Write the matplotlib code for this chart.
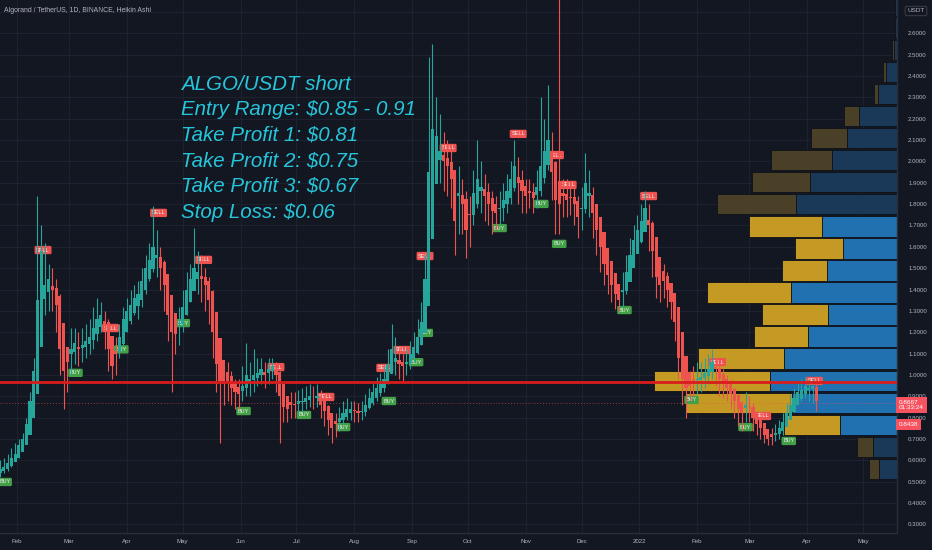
import datetime as dt
import matplotlib
matplotlib.use("Agg")
import matplotlib.pyplot as plt
import matplotlib.dates as mdates
from matplotlib import font_manager
from matplotlib.patches import Rectangle
from matplotlib.transforms import blended_transform_factory
from matplotlib.ticker import FuncFormatter, FixedLocator

# ---------------- data ----------------
start_date = dt.date(2021, 1, 23)
bar_days = 2
ha_first_open = 0.54

ha_close = [
    0.56, 0.57, 0.59, 0.61, 0.63, 0.67, 0.70, 0.77, 0.88, 1.02,
    1.35, 1.58, 1.42, 1.45, 1.40, 1.33, 1.12, 1.02, 1.06, 1.12,
    1.15, 1.12, 1.14, 1.16, 1.18, 1.22, 1.26, 1.28, 1.24, 1.12,
    1.04, 1.10, 1.18, 1.26, 1.30, 1.33, 1.36, 1.38, 1.44, 1.50,
    1.54, 1.60, 1.56, 1.50, 1.42, 1.28, 1.20, 1.19, 1.24, 1.32,
    1.40, 1.45, 1.50, 1.48, 1.45, 1.42, 1.35, 1.20, 1.05, 0.97,
    0.96, 0.97, 0.94, 0.92, 0.91, 0.95, 1.00, 0.98, 1.00, 1.01,
    1.03, 1.00, 1.03, 1.04, 1.00, 0.90, 0.85, 0.84, 0.86, 0.86,
    0.88, 0.88, 0.89, 0.90, 0.89, 0.90, 0.86, 0.83, 0.79, 0.75,
    0.77, 0.80, 0.82, 0.84, 0.84, 0.83, 0.82, 0.83, 0.86, 0.89,
    0.92, 0.94, 0.96, 0.98, 1.05, 1.12, 1.08, 1.05, 1.04, 1.06,
    1.10, 1.13, 1.18, 1.25, 1.45, 1.95, 2.15, 2.12, 2.05, 2.00,
    1.98, 1.92, 1.72, 1.85, 1.80, 1.68, 1.75, 1.85, 1.92, 1.88,
    1.84, 1.80, 1.77, 1.76, 1.78, 1.82, 1.86, 1.92, 1.98, 1.90,
    1.86, 1.84, 1.85, 1.83, 1.88, 1.98, 2.05, 2.10, 1.95, 1.82,
    1.80, 1.84, 1.82, 1.83, 1.80, 1.74, 1.78, 1.90, 1.85, 1.76,
    1.68, 1.60, 1.52, 1.47, 1.42, 1.38, 1.35, 1.40, 1.48, 1.56,
    1.63, 1.68, 1.72, 1.78, 1.70, 1.58, 1.46, 1.42, 1.44, 1.40,
    1.34, 1.25, 1.08, 0.98, 0.94, 0.95, 0.97, 0.98, 0.99, 1.01,
    1.03, 1.06, 1.03, 0.98, 0.96, 0.94, 0.91, 0.88, 0.84, 0.82,
    0.86, 0.85, 0.80, 0.77, 0.75, 0.72, 0.70, 0.71, 0.73, 0.75,
    0.78, 0.82, 0.86, 0.89, 0.92, 0.93, 0.95, 0.94, 0.95, 0.88,
]
ha_high = [
    0.60, 0.61, 0.63, 0.66, 0.68, 0.70, 0.73, 0.80, 0.92, 1.08,
    1.84, 1.70, 1.62, 1.52, 1.50, 1.45, 1.38, 1.15, 1.12, 1.22,
    1.22, 1.20, 1.22, 1.24, 1.26, 1.32, 1.36, 1.34, 1.30, 1.26,
    1.14, 1.18, 1.24, 1.32, 1.36, 1.40, 1.42, 1.44, 1.50, 1.56,
    1.62, 1.79, 1.68, 1.60, 1.54, 1.46, 1.32, 1.26, 1.32, 1.40,
    1.48, 1.52, 1.69, 1.58, 1.56, 1.50, 1.46, 1.40, 1.26, 1.10,
    1.04, 1.06, 1.02, 0.98, 0.98, 1.04, 1.15, 1.06, 1.12, 1.08,
    1.08, 1.06, 1.08, 1.08, 1.06, 1.02, 0.94, 0.90, 0.92, 0.92,
    0.93, 0.94, 0.95, 0.96, 0.95, 0.96, 0.93, 0.90, 0.86, 0.82,
    0.82, 0.85, 0.88, 0.89, 0.88, 0.88, 0.87, 0.88, 0.91, 0.94,
    0.97, 0.99, 1.01, 1.04, 1.12, 1.24, 1.18, 1.12, 1.10, 1.12,
    1.16, 1.20, 1.26, 1.34, 1.56, 2.49, 2.55, 2.30, 2.22, 2.14,
    2.10, 2.08, 1.96, 1.98, 1.92, 1.86, 1.84, 1.96, 2.10, 2.00,
    1.94, 1.90, 1.86, 1.84, 1.86, 1.90, 1.94, 2.00, 2.10, 2.02,
    1.96, 1.92, 1.92, 1.90, 1.96, 2.30, 2.20, 2.36, 2.14, 2.00,
    2.80, 1.92, 1.92, 1.90, 1.88, 1.84, 1.88, 2.04, 1.96, 1.88,
    1.80, 1.72, 1.64, 1.56, 1.50, 1.46, 1.42, 1.48, 1.56, 1.64,
    1.70, 1.75, 1.80, 1.86, 1.80, 1.72, 1.60, 1.52, 1.52, 1.48,
    1.42, 1.36, 1.28, 1.12, 1.02, 1.02, 1.04, 1.06, 1.06, 1.08,
    1.10, 1.12, 1.08, 1.06, 1.03, 1.00, 0.98, 0.94, 0.90, 0.88,
    0.92, 0.90, 0.87, 0.83, 0.80, 0.77, 0.74, 0.75, 0.77, 0.79,
    0.82, 0.87, 0.91, 0.94, 0.97, 0.98, 0.99, 0.98, 0.98, 0.96,
]
ha_low = [
    0.52, 0.54, 0.55, 0.57, 0.60, 0.61, 0.65, 0.69, 0.76, 0.86,
    1.00, 1.30, 1.28, 1.30, 1.30, 1.20, 1.00, 0.84, 0.92, 1.00,
    1.05, 1.04, 1.06, 1.08, 1.10, 1.12, 1.16, 1.20, 1.12, 1.02,
    0.98, 1.00, 1.08, 1.14, 1.20, 1.24, 1.28, 1.26, 1.32, 1.38,
    1.44, 1.48, 1.46, 1.40, 1.30, 1.16, 0.92, 1.10, 1.14, 1.20,
    1.28, 1.34, 1.40, 1.38, 1.34, 1.30, 1.24, 1.08, 0.92, 0.68,
    0.86, 0.88, 0.86, 0.84, 0.84, 0.88, 0.90, 0.90, 0.92, 0.95,
    0.96, 0.94, 0.96, 0.98, 0.92, 0.68, 0.78, 0.78, 0.80, 0.80,
    0.82, 0.83, 0.84, 0.85, 0.84, 0.85, 0.80, 0.76, 0.72, 0.68,
    0.71, 0.74, 0.77, 0.79, 0.79, 0.78, 0.78, 0.79, 0.81, 0.84,
    0.86, 0.88, 0.90, 0.92, 0.96, 1.02, 1.00, 0.98, 0.97, 1.00,
    1.03, 1.06, 1.10, 1.14, 1.20, 1.40, 1.90, 1.95, 1.90, 1.86,
    1.84, 1.78, 1.56, 1.66, 1.66, 1.55, 1.60, 1.70, 1.78, 1.76,
    1.72, 1.70, 1.66, 1.68, 1.70, 1.72, 1.76, 1.80, 1.86, 1.80,
    1.76, 1.76, 1.78, 1.76, 1.78, 1.84, 1.90, 1.96, 1.82, 1.66,
    1.66, 1.74, 1.74, 1.75, 1.70, 1.64, 1.68, 1.76, 1.74, 1.64,
    1.56, 1.48, 1.42, 1.38, 1.34, 1.31, 1.30, 1.32, 1.38, 1.44,
    1.52, 1.58, 1.62, 1.68, 1.58, 1.46, 1.36, 1.34, 1.36, 1.32,
    1.26, 1.16, 0.98, 0.86, 0.80, 0.88, 0.90, 0.91, 0.92, 0.94,
    0.96, 0.98, 0.95, 0.90, 0.89, 0.88, 0.84, 0.80, 0.76, 0.74,
    0.78, 0.78, 0.74, 0.72, 0.70, 0.68, 0.67, 0.67, 0.69, 0.70,
    0.72, 0.76, 0.80, 0.83, 0.86, 0.88, 0.89, 0.88, 0.87, 0.83,
]

signal_bar = [1.2, 11.5, 20.2, 29.6, 32.5, 42.5, 49.0, 54.6, 65.3, 74.0,
              81.5, 87.4, 92.0, 103.2, 104.3, 107.8, 111.6, 114.2, 114.0, 120.2,
              134.0, 139.0, 145.2, 149.0, 150.0, 152.4, 167.5, 174.0, 185.5, 192.5,
              200.0, 204.6, 211.6, 218.5]
signal_price = [0.499, 1.585, 1.010, 1.220, 1.120, 1.759, 1.243, 1.539, 0.831, 1.037,
                0.813, 0.897, 0.756, 1.033, 0.878, 1.117, 1.060, 1.197, 1.557, 2.063,
                1.688, 2.129, 1.801, 2.030, 1.614, 1.890, 1.304, 1.838, 0.883, 1.060,
                0.756, 0.808, 0.691, 0.972]
signal_kind = ["BUY", "SELL", "BUY", "SELL", "BUY", "SELL", "BUY", "SELL", "BUY", "SELL",
               "BUY", "SELL", "BUY", "SELL", "BUY", "SELL", "BUY", "BUY", "SELL", "SELL",
               "BUY", "SELL", "BUY", "SELL", "BUY", "SELL", "BUY", "SELL", "BUY", "SELL",
               "BUY", "SELL", "BUY", "SELL"]

vp_bottom = 0.509
vp_row = 0.1032
vp_up_volume = [18, 24, 57, 105, 127, 113, 89, 69, 106, 70, 54,
                75, 101, 87, 65, 50, 38, 19, 11, 3, 2, 2]
vp_down_volume = [10, 16, 56, 106, 116, 86, 54, 66, 84, 45, 48,
                  73, 79, 58, 61, 36, 15, 4, 3, 2, 0, 0]
vp_value_area_rows = (2, 11)

level_line = 0.967
last_close = 0.8667
last_close_alt = 0.8438
bar_countdown = "01:33:24"

chart_title = "Algorand / TetherUS, 1D, BINANCE, Heikin Ashi"
note_lines = ["ALGO/USDT short",
              "Entry Range: $0.85 - 0.91",
              "Take Profit 1: $0.81",
              "Take Profit 2: $0.75",
              "Take Profit 3: $0.67",
              "Stop Loss: $0.06"]
price_ticks = [0.3, 0.4, 0.5, 0.6, 0.7, 0.8, 0.9, 1.0, 1.1, 1.2, 1.3, 1.4,
               1.5, 1.6, 1.7, 1.8, 1.9, 2.0, 2.1, 2.2, 2.3, 2.4, 2.5, 2.6, 2.7]
price_label_max = 2.6

# ---------------- style ----------------
BG = "#131722"
GRID = "#1e2230"
TXT = "#b2b5be"
UP = "#26a69a"
DOWN = "#ef5350"


def pick_font(names):
    for n in names:
        try:
            font_manager.findfont(font_manager.FontProperties(family=n),
                                  fallback_to_default=False)
            return n
        except Exception:
            continue
    return "DejaVu Sans"


narrow = pick_font(["Liberation Sans Narrow", "Liberation Sans", "DejaVu Sans"])
wf = 1.0 if narrow == "Liberation Sans Narrow" else 0.82

W, H = 932, 550
fig = plt.figure(figsize=(W / 100, H / 100), dpi=100, facecolor=BG)
plot_w, plot_bottom = 897, 17
ax = fig.add_axes([0, plot_bottom / H, plot_w / W, 1 - plot_bottom / H])
ax.set_facecolor(BG)

x0 = mdates.date2num(start_date)
n = len(ha_close)
xs = [x0 + bar_days * i for i in range(n)]
opens = [ha_first_open]
for i in range(1, n):
    opens.append((opens[i - 1] + ha_close[i - 1]) / 2)
cols = [UP if c >= o else DOWN for o, c in zip(opens, ha_close)]
bottoms = [min(o, c) for o, c in zip(opens, ha_close)]
heights = [max(abs(c - o), 0.004) for o, c in zip(opens, ha_close)]

px_per_day = 1.8634
left = x0 - 0.1
ax.set_xlim(left, left + plot_w / px_per_day)
ax.set_ylim(0.26, 2.756)

# volume profile (behind candles)
trans = blended_transform_factory(ax.transAxes, ax.transData)
vscale = 1.0 / plot_w
lo, hi = vp_value_area_rows
for k, (u, d) in enumerate(zip(vp_up_volume, vp_down_volume)):
    y0 = vp_bottom + k * vp_row
    bright = lo <= k <= hi
    blue = "#2170b0" if bright else "#1a3857"
    gold = "#c49a24" if bright else "#4a3f27"
    wu, wd = u * vscale, d * vscale
    g = vp_row * 0.04
    if u > 0:
        ax.add_patch(Rectangle((1 - wu, y0 + g), wu, vp_row - 2 * g, transform=trans,
                               fc=blue, ec="#0e1118", lw=0.6, zorder=1))
    if d > 0:
        ax.add_patch(Rectangle((1 - wu - wd, y0 + g), wd, vp_row - 2 * g, transform=trans,
                               fc=gold, ec="#0e1118", lw=0.6, zorder=1))

# candles
ax.vlines(xs, ha_low, ha_high, colors=cols, lw=0.8, zorder=3)
ax.bar(xs, heights, bottom=bottoms, width=bar_days * 0.85, color=cols,
       linewidth=0, zorder=3.1)

# level lines
ax.axhline(level_line, color="#d91c1c", lw=2.0, zorder=5)
ax.axhline(last_close, color=DOWN, lw=0.7, ls=(0, (1, 2)), alpha=0.6, zorder=2)

# buy / sell labels
for b, p, kind in zip(signal_bar, signal_price, signal_kind):
    fc = DOWN if kind == "SELL" else "#43a047"
    ax.text(x0 + bar_days * b, p, kind, ha="center", va="center",
            fontsize=4.0, color="#f0f0f0", family=narrow, zorder=2.8,
            bbox=dict(boxstyle="round,pad=0.3,rounding_size=0.25", fc=fc, ec="none"))

# grid / axes
ax.yaxis.set_major_locator(FixedLocator(price_ticks))
ax.yaxis.set_major_formatter(
    FuncFormatter(lambda v, p: f"{v:.4f}" if v <= price_label_max + 1e-9 else ""))
ax.xaxis.set_major_locator(mdates.MonthLocator())


def month_fmt(v, pos):
    d = mdates.num2date(v)
    return str(d.year) if d.month == 1 else d.strftime("%b")


ax.xaxis.set_major_formatter(FuncFormatter(month_fmt))
ax.grid(True, color=GRID, lw=0.8, zorder=0)
ax.set_axisbelow(True)
ax.yaxis.tick_right()
ax.tick_params(axis="y", length=0, pad=8, labelsize=5.0 * wf + 0.3, labelcolor=TXT)
ax.tick_params(axis="x", length=0, pad=4, labelsize=5.0 * wf + 0.3, labelcolor=TXT)
for lab in ax.get_xticklabels() + ax.get_yticklabels():
    lab.set_family(narrow)
for s in ("top", "left"):
    ax.spines[s].set_visible(False)
for s in ("right", "bottom"):
    ax.spines[s].set_color("#2a2e39")
    ax.spines[s].set_linewidth(1.0)

# title
fig.text(4 / W, 1 - 11 / H, chart_title, fontsize=5.6 * wf + 0.4, color=TXT,
         family=narrow, va="center", ha="left")

# note text
for j, line in enumerate(note_lines):
    fig.text(181 / W, 1 - (84 + 25.6 * j) / H, line, fontsize=18 * wf, color="#26c6da",
             family=narrow, style="italic", va="center", ha="left")

# USDT box
fig.text(916 / W, 1 - 11 / H, "USDT", fontsize=4.6, color=TXT, family=narrow,
         ha="center", va="center",
         bbox=dict(boxstyle="round,pad=0.35,rounding_size=0.3", fc=BG, ec="#434651", lw=0.6),
         zorder=10)

# price boxes
fig.text(899 / W, 1 - 405 / H, f"{last_close:.4f}\n{bar_countdown}", fontsize=4.6,
         color="white", family=narrow, ha="left", va="center", linespacing=1.15,
         bbox=dict(boxstyle="square,pad=0.45", fc="#f7525f", ec="none"), zorder=10)
fig.text(899 / W, 1 - 424.5 / H, f"{last_close_alt:.4f}", fontsize=4.6,
         color="white", family=narrow, ha="left", va="center",
         bbox=dict(boxstyle="square,pad=0.45", fc="#f7525f", ec="none"), zorder=10)

fig.savefig("out.png", dpi=100, facecolor=BG)
